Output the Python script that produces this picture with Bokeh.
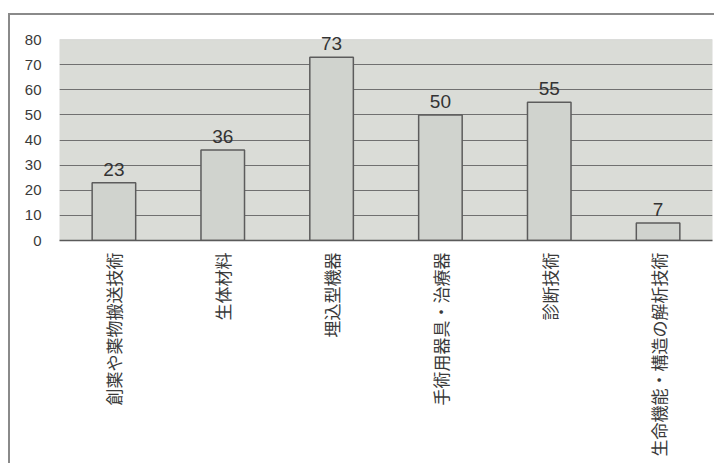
import math
from bokeh.plotting import figure
from bokeh.models import ColumnDataSource, LabelSet, Range1d, FixedTicker, BoxAnnotation
from bokeh.core.properties import value
from bokeh.embed import file_html
from bokeh.resources import INLINE

# Categories and counts
categories = ["創薬や薬物搬送技術", "生体材料", "埋込型機器", "手術用器具・治療器", "診断技術", "生命機能・構造の解析技術"]
counts = [23, 36, 73, 50, 55, 7]
y_ticks = [0, 10, 20, 30, 40, 50, 60, 70, 80]
grid_ticks = [10, 20, 30, 40, 50, 60, 70]

source = ColumnDataSource(data=dict(
    cat=categories,
    val=counts,
    lbl=[str(v) for v in counts],
))

# A little headroom above 80 so the tallest value label is not clipped
p = figure(
    x_range=categories,
    y_range=Range1d(0, 84),
    width=706, height=450,
    output_backend="svg", toolbar_location=None,
    min_border_left=49, min_border_top=14, min_border_right=4, min_border_bottom=225,
    background_fill_color="white",
    border_fill_color="white",
)
p.margin = (13, 0, 0, 8)
p.styles = {"border-top": "2px solid #8a8a8a", "border-left": "2px solid #8a8a8a"}

# Grey plotting panel from 0 to 80
panel = BoxAnnotation(bottom=0, top=80, fill_color="#dadcd7", fill_alpha=1.0,
                      line_color="#b4b4b4", line_width=1, level="image")
p.add_layout(panel)

p.vbar(x="cat", top="val", width=0.4, source=source,
       fill_color="#d0d3ce", line_color="#5c5c5c", line_width=1.5)

labels = LabelSet(x="cat", y="val", text="lbl", source=source,
                  y_offset=7, text_align="center", text_baseline="bottom",
                  text_font=value("Liberation Sans"), text_font_size="19px",
                  text_color="#333333")
p.add_layout(labels)

# Grid
p.xgrid.grid_line_color = None
p.ygrid.ticker = FixedTicker(ticks=grid_ticks)
p.ygrid.grid_line_color = "#707070"
p.ygrid.grid_line_width = 1.2

p.outline_line_color = None

# Y axis
p.yaxis.ticker = FixedTicker(ticks=y_ticks)
p.yaxis.axis_line_color = None
p.yaxis.major_tick_line_color = None
p.yaxis.minor_tick_line_color = None
p.yaxis.major_label_standoff = 12
p.yaxis.major_label_text_font = "Liberation Sans"
p.yaxis.major_label_text_font_size = "15px"
p.yaxis.major_label_text_color = "#3a3a3a"

# X axis
p.xaxis.axis_line_color = "#5a5a5a"
p.xaxis.axis_line_width = 1.5
p.xaxis.major_tick_line_color = None
p.xaxis.major_label_orientation = math.pi / 2
p.xaxis.major_label_standoff = 6
p.xaxis.major_label_text_font = "Noto Sans CJK JP"
p.xaxis.major_label_text_font_size = "17px"
p.xaxis.major_label_text_color = "#3a3a3a"

open("out.html", "w").write(file_html(p, INLINE))
